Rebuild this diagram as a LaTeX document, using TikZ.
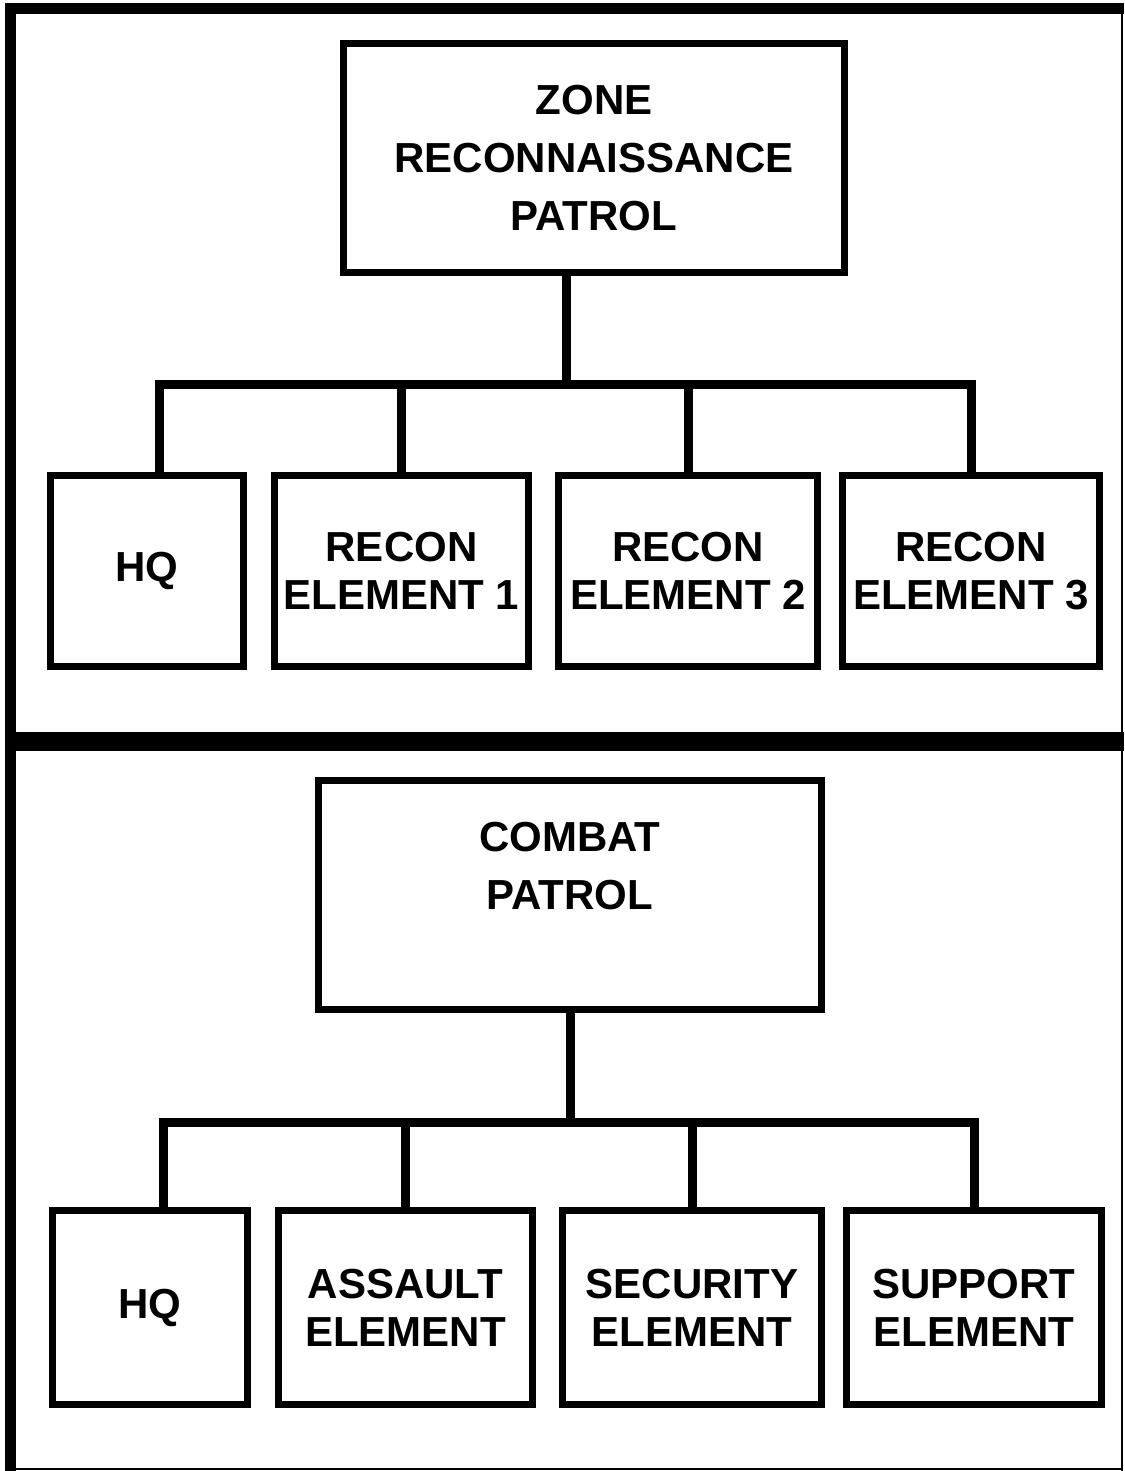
\documentclass[tikz,border=0pt]{standalone}
\usepackage{fontspec}
\setmainfont{Liberation Sans}
\tikzset{
  unitbox/.style={draw, line width=3.5pt, inner sep=0pt, align=center,
    font=\fontsize{21}{29}\selectfont\bfseries},
  elbox/.style={unitbox, font=\fontsize{21}{24}\selectfont\bfseries},
  link/.style={line width=4.5pt},
}
\begin{document}
\begin{tikzpicture}[x=0.5pt, y=-0.5pt]
    \useasboundingbox (0,0) rectangle (1124,1471);
    % frame round both charts, and the bar between them
    \draw[line width=5.5pt] (10.5,1471)--(10.5,8.5)--(1124,8.5);
    \draw[line width=1pt] (1122,8.5)--(1122,1471) (10.5,1469)--(1122,1469);
    \draw[line width=9.5pt] (10.5,741.5)--(1124,741.5);

    % zone reconnaissance patrol
    \def\h{95.5pt}
    \node[unitbox, minimum width=250.5pt, minimum height=114.5pt] (zone) at (594,158) {ZONE\\RECONNAISSANCE\\PATROL};
    \node[elbox, minimum width=96.5pt, minimum height=\h] (zhq) at (147,571) {HQ};
    \node[elbox, minimum width=127pt, minimum height=\h] (zr1) at (401.5,571) {RECON\\ELEMENT 1};
    \node[elbox, minimum width=129.5pt, minimum height=\h] (zr2) at (688,571) {RECON\\ELEMENT 2};
    \node[elbox, minimum width=128.5pt, minimum height=\h] (zr3) at (971,571) {RECON\\ELEMENT 3};
    \coordinate (zbus) at (566,384);
    \draw[link] ([xshift=-14pt]zone.south)--(zbus);
    \draw[link] ([xshift=6pt]zhq.north) |- (zbus) -| (zr3.north);
    \foreach \u in {zr1,zr2}{
        \draw[link] (\u.north)--(\u.north |- zbus);
    }

    % combat patrol
    \def\h{97pt}
    \node[unitbox, minimum width=251.5pt, minimum height=114.5pt] (combat) at (570,895) {COMBAT\\PATROL\\~};
    \node[elbox, minimum width=97.5pt, minimum height=\h] (chq) at (150,1307.5) {HQ};
    \node[elbox, minimum width=127pt, minimum height=\h] (cas) at (405.5,1307.5) {ASSAULT\\ELEMENT};
    \node[elbox, minimum width=129.5pt, minimum height=\h] (cse) at (692,1307.5) {SECURITY\\ELEMENT};
    \node[elbox, minimum width=127.5pt, minimum height=\h] (csu) at (974,1307.5) {SUPPORT\\ELEMENT};
    \coordinate (cbus) at (570,1122);
    \draw[link] (combat.south)--(cbus);
    \draw[link] ([xshift=6.5pt]chq.north) |- (cbus) -| (csu.north);
    \foreach \u in {cas,cse}{
        \draw[link] (\u.north)--(\u.north |- cbus);
    }
\end{tikzpicture}
\end{document}
